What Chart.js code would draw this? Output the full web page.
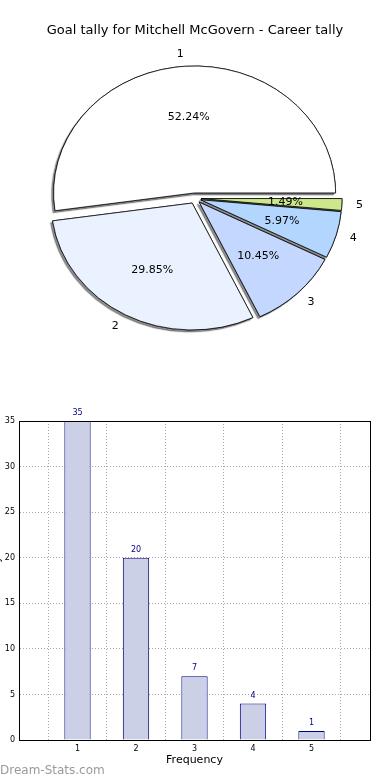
<!DOCTYPE html>
<html><head><meta charset="utf-8">
<script src="https://cdn.jsdelivr.net/npm/chart.js@4"></script>
<style>
html,body{margin:0;padding:0;background:#fff;width:390px;height:780px;overflow:hidden;position:relative;font-family:'DejaVu Sans',sans-serif}
#pieWrap{position:absolute;left:0;top:0;width:390px;height:400px}
#barWrap{position:absolute;left:-10px;top:400px;width:400px;height:372px}
#wm{position:absolute;left:0;top:763px;font:12px 'DejaVu Sans',sans-serif;color:#9a9a9a;z-index:2}
</style></head><body>
<div id="pieWrap"><canvas id="pie"></canvas></div>
<div id="barWrap"><canvas id="bar"></canvas></div>
<div id="wm">Dream-Stats.com</div>
<script>
// ---- data ----
const titleText = 'Goal tally for Mitchell McGovern - Career tally';
const categories = ['1', '2', '3', '4', '5'];
const goalCounts = [35, 20, 7, 4, 1];
const sliceColors = ['#ffffff', '#ebf2ff', '#c4d8ff', '#b3d6ff', '#cce88a'];
const yTickValues = [0, 5, 10, 15, 20, 25, 30, 35];
const xAxisTitle = 'Frequency';
const yAxisTitle = 'Goal Tally';

const total = goalCounts.reduce((a, b) => a + b, 0);
const percentLabels = goalCounts.map(v => (v / total * 100).toFixed(2) + '%');

// Chart.js draws clockwise, so reverse order to mimic the counter-clockwise pie
const pieLabels = categories.slice().reverse();
const pieValues = goalCounts.slice().reverse();
const pieColors = sliceColors.slice().reverse();
const piePct = percentLabels.slice().reverse();

const SY = 0.9;      // vertical squash (elliptic pie like the original)
const OFF = 6;       // explode distance
const FONT = "'DejaVu Sans', sans-serif";

const explodePlugin = {
  id: 'explode',
  beforeDatasetsDraw(chart) {
    const ctx = chart.ctx;
    const arcs = chart.getDatasetMeta(0).data;
    const c = arcs[0];
    ctx.save();
    ctx.translate(c.x, c.y);
    ctx.scale(1, SY);
    ctx.translate(-c.x, -c.y);
    const order = arcs.map((a, i) => i).reverse();
    [true, false].forEach(withShadow => {
      order.forEach(i => {
        const a = arcs[i];
        const mid = (a.startAngle + a.endAngle) / 2;
        ctx.save();
        if (withShadow) {
          ctx.shadowColor = 'rgba(0,0,0,0.45)';
          ctx.shadowOffsetX = -2;
          ctx.shadowOffsetY = 2;
          ctx.shadowBlur = 1;
        }
        ctx.translate(Math.cos(mid) * OFF, Math.sin(mid) * OFF);
        a.draw(ctx);
        ctx.restore();
      });
    });
    ctx.restore();

    ctx.save();
    ctx.font = '11px ' + FONT;
    ctx.fillStyle = '#000';
    ctx.textBaseline = 'middle';
    arcs.forEach((a, i) => {
      const mid = (a.startAngle + a.endAngle) / 2;
      const ux = Math.cos(mid), uy = Math.sin(mid);
      const r = a.outerRadius;
      const lx = a.x + ux * (OFF + 1.1 * r);
      const ly = a.y + uy * (OFF + 1.1 * r) * SY;
      ctx.textAlign = ux > 0 ? 'left' : 'right';
      ctx.fillText(pieLabels[i], lx, ly);
      const px = a.x + ux * (OFF + 0.6 * r);
      const py = a.y + uy * (OFF + 0.6 * r) * SY;
      ctx.textAlign = 'center';
      ctx.fillText(piePct[i], px, py);
    });
    ctx.restore();
    return false;
  }
};

new Chart(document.getElementById('pie'), {
  type: 'pie',
  data: {
    labels: pieLabels,
    datasets: [{
      data: pieValues,
      backgroundColor: pieColors,
      borderColor: '#000',
      borderWidth: 0.8,
      offset: 0,
      hoverOffset: 0
    }]
  },
  options: {
    responsive: true,
    maintainAspectRatio: false,
    animation: false,
    rotation: 90,
    radius: 141,
    layout: { padding: { top: 0, bottom: 42, left: 0, right: 0 } },
    events: [],
    plugins: {
      legend: { display: false },
      tooltip: { enabled: false },
      title: {
        display: true,
        text: titleText,
        color: '#000',
        font: { family: FONT, size: 13, weight: 'normal' },
        padding: { top: 23, bottom: 0 }
      }
    }
  },
  plugins: [explodePlugin]
});

// ---- bar chart ----
const barExtras = {
  id: 'barExtras',
  afterDatasetsDraw(chart) {
    const ctx = chart.ctx;
    ctx.save();
    ctx.font = '8px ' + FONT;
    ctx.fillStyle = '#00008b';
    ctx.textAlign = 'center';
    ctx.textBaseline = 'alphabetic';
    chart.getDatasetMeta(0).data.forEach((bar, i) => {
      ctx.fillText(String(goalCounts[i]), bar.x, bar.y - 6);
    });
    const a = chart.chartArea;
    ctx.strokeStyle = '#000';
    ctx.lineWidth = 1;
    ctx.setLineDash([]);
    ctx.strokeRect(Math.round(a.left) + 0.5, Math.round(a.top) + 0.5, Math.round(a.right - a.left), Math.round(a.bottom - a.top));
    ctx.restore();
  }
};

new Chart(document.getElementById('bar'), {
  type: 'bar',
  data: {
    datasets: [{
      data: categories.map((c, i) => ({ x: Number(c), y: goalCounts[i] })),
      backgroundColor: '#ccd0e6',
      borderColor: '#000080',
      borderWidth: 1,
      barPercentage: 0.45,
      categoryPercentage: 1
    }]
  },
  options: {
    responsive: true,
    maintainAspectRatio: false,
    animation: false,
    events: [],
    layout: { padding: { top: 21, right: 20, left: 0, bottom: 0 } },
    plugins: { legend: { display: false }, tooltip: { enabled: false } },
    scales: {
      x: {
        type: 'linear',
        min: 0, max: 6,
        offset: false,
        afterFit(s) { s.height = 32; },
        ticks: {
          stepSize: 1,
          color: '#000',
          font: { family: FONT, size: 8 },
          padding: 4,
          callback: v => (v >= 1 && v <= 5) ? categories[v - 1] : ''
        },
        grid: { color: '#a8a8a8', drawTicks: false, lineWidth: 1 },
        border: { display: true, color: '#000', dash: [1, 2] },
        title: { display: true, text: xAxisTitle, color: '#000', font: { family: FONT, size: 11 }, padding: { top: 0, bottom: 5 } }
      },
      y: {
        min: 0, max: 35,
        afterFit(s) { s.width = 29; },
        afterBuildTicks(s) { s.ticks = yTickValues.map(v => ({ value: v })); },
        ticks: {
          color: '#000',
          font: { family: FONT, size: 8 },
          padding: 4
        },
        grid: { color: '#a8a8a8', drawTicks: false, lineWidth: 1 },
        border: { display: true, color: '#000', dash: [1, 2] },
        title: { display: true, text: yAxisTitle, color: '#000', font: { family: FONT, size: 10 }, padding: { top: 1, bottom: 0 } }
      }
    }
  },
  plugins: [barExtras]
});
</script>
</body></html>
